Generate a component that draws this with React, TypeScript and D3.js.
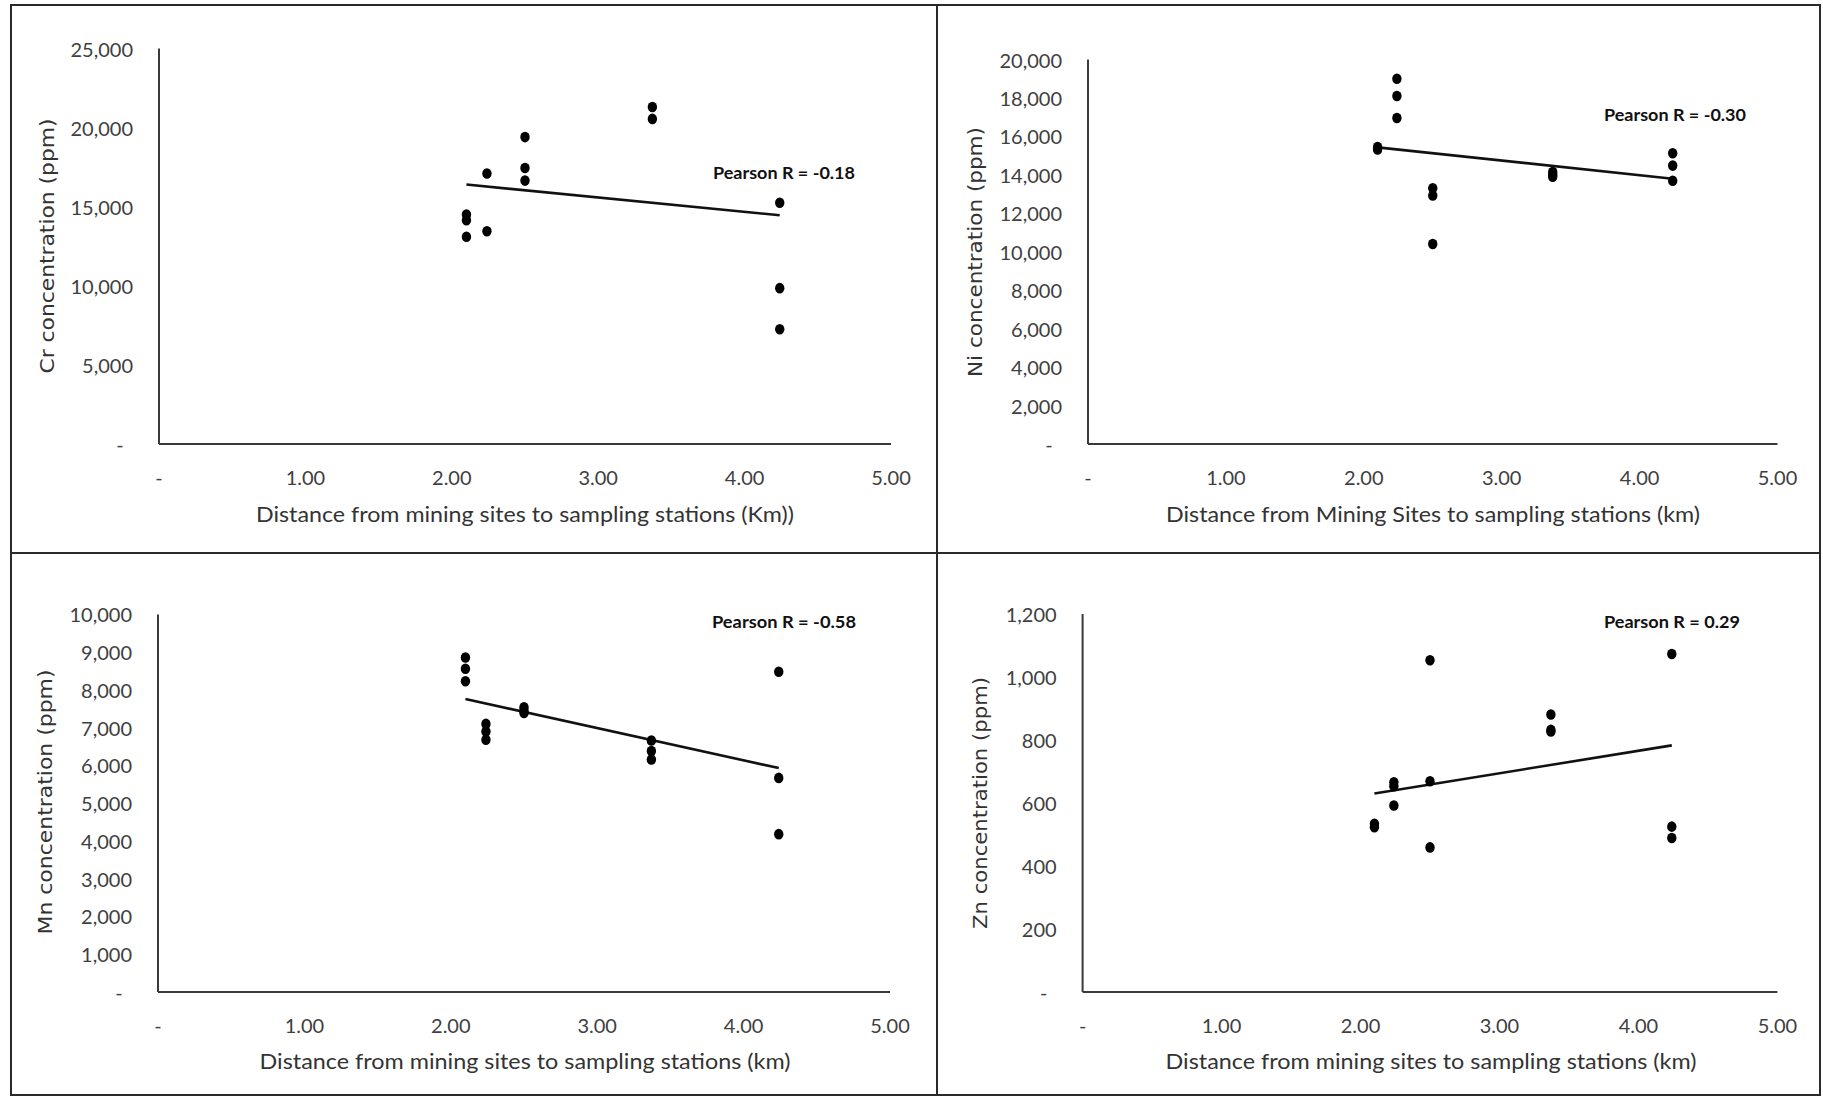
import React from 'react';
import { scaleLinear, range, format } from 'd3';

// distances of the sampling stations (km)
const stations = [2.1, 2.24, 2.5, 3.37, 4.24];

// concentrations read per station (ppm)
const crValues = [
  [14500, 14150, 13100],
  [17100, 13450],
  [19400, 17450, 16650],
  [21300, 20550],
  [15250, 9850, 7250],
];
const niValues = [
  [15450, 15320],
  [19000, 18100, 16960],
  [13300, 12930, 10400],
  [14150, 14000, 13900],
  [15120, 14480, 13690],
];
const mnValues = [
  [8860, 8560, 8230],
  [7100, 6900, 6680],
  [7540, 7450, 7390],
  [6660, 6380, 6160],
  [8480, 5670, 4180],
];
const znValues = [
  [534, 523],
  [666, 653, 592],
  [1053, 669, 459],
  [881, 832, 827],
  [1073, 525, 489],
];

// trend line values at first and last station
const crTrend = [16400, 14460];
const niTrend = [15430, 13800];
const mnTrend = [7760, 5930];
const znTrend = [630, 783];

const xTicks = [0, 1, 2, 3, 4, 5];
const crTicks = [0, 5000, 10000, 15000, 20000, 25000];
const niTicks = [0, 2000, 4000, 6000, 8000, 10000, 12000, 14000, 16000, 18000, 20000];
const mnTicks = [0, 1000, 2000, 3000, 4000, 5000, 6000, 7000, 8000, 9000, 10000];
const znTicks = [0, 200, 400, 600, 800, 1000, 1200];

const pearson = ['Pearson R = -0.18', 'Pearson R = -0.30', 'Pearson R = -0.58', 'Pearson R = 0.29'];
const yTitles = ['Cr concentration (ppm)', 'Ni concentration (ppm)', 'Mn concentration (ppm)', 'Zn concentration (ppm)'];
const xTitles = [
  'Distance from mining sites to sampling stations (Km))',
  'Distance from Mining Sites to sampling stations (km)',
  'Distance from mining sites to sampling stations (km)',
  'Distance from mining sites to sampling stations (km)',
];

const width = 1823;
const height = 1096;
const font = 'Lato, "Open Sans", sans-serif';

// where each panel sits on the page
const layout = [
  { left: 159, right: 891, top: 48.5, bottom: 444, yT: [46.5, 246, 255], xT: [525, 513, 538], pr: [784, 172, 142] },
  { left: 1088, right: 1777.5, top: 59.5, bottom: 444, yT: [975, 252, 250], xT: [1433, 513, 534], pr: [1675, 114, 142] },
  { left: 158, right: 890, top: 614.4, bottom: 992, yT: [45, 802, 265], xT: [525, 1060, 531], pr: [784, 621, 144] },
  { left: 1082.6, right: 1777.4, top: 614, bottom: 992, yT: [980, 803, 252], xT: [1431, 1060, 531], pr: [1672, 621, 136] },
];

const panels = [
  { values: crValues, trend: crTrend, ticks: crTicks },
  { values: niValues, trend: niTrend, ticks: niTicks },
  { values: mnValues, trend: mnTrend, ticks: mnTicks },
  { values: znValues, trend: znTrend, ticks: znTicks },
];

const fmtY = format(',');
const fmtX = format('.2f');

const Panel = ({ i }: { i: number }) => {
  const p = panels[i];
  const L = layout[i];
  const x = scaleLinear().domain([0, 5]).range([L.left, L.right]);
  const y = scaleLinear()
    .domain([0, p.ticks[p.ticks.length - 1]])
    .range([L.bottom, L.top]);
  const labelRight = L.left - 26;

  return (
    <g>
      {/* y tick labels */}
      {p.ticks.map((t) => (
        <text
          key={'y' + t}
          x={t === 0 ? labelRight - 13 : labelRight}
          y={y(t)}
          textAnchor={t === 0 ? 'middle' : 'end'}
          dominantBaseline="central"
          fontFamily={font}
          fontSize={20}
          fill="#404040"
        >
          {t === 0 ? '-' : fmtY(t)}
        </text>
      ))}
      {/* x tick labels */}
      {xTicks.map((t) => (
        <text
          key={'x' + t}
          x={x(t)}
          y={L.bottom + 33}
          textAnchor="middle"
          dominantBaseline="central"
          fontFamily={font}
          fontSize={20}
          fill="#404040"
        >
          {t === 0 ? '-' : fmtX(t)}
        </text>
      ))}
      {/* axes */}
      <line x1={L.left} x2={L.left} y1={L.top} y2={L.bottom} stroke="#3a3a3a" strokeWidth={2} />
      <line x1={L.left} x2={L.right} y1={L.bottom} y2={L.bottom} stroke="#3a3a3a" strokeWidth={2} />
      {/* trend line */}
      <line
        x1={x(stations[0])}
        x2={x(stations[stations.length - 1])}
        y1={y(p.trend[0])}
        y2={y(p.trend[1])}
        stroke="#111"
        strokeWidth={2.6}
      />
      {/* points */}
      {p.values.map((vals, si) =>
        vals.map((v, k) => (
          <ellipse key={si + '-' + k} cx={x(stations[si])} cy={y(v)} rx={4.7} ry={5.3} fill="#000" />
        ))
      )}
      {/* titles */}
      <text
        transform={`translate(${L.yT[0]},${L.yT[1]}) rotate(-90)`}
        textAnchor="middle"
        dominantBaseline="central"
        fontFamily='"DejaVu Sans", sans-serif'
        fontSize={19}
        textLength={L.yT[2]}
        lengthAdjust="spacingAndGlyphs"
        fill="#333"
      >
        {yTitles[i]}
      </text>
      <text
        x={L.xT[0]}
        y={L.xT[1]}
        textAnchor="middle"
        dominantBaseline="central"
        fontFamily={font}
        fontSize={21}
        textLength={L.xT[2]}
        lengthAdjust="spacingAndGlyphs"
        fill="#333"
      >
        {xTitles[i]}
      </text>
      <text
        x={L.pr[0]}
        y={L.pr[1]}
        textAnchor="middle"
        dominantBaseline="central"
        fontFamily={font}
        fontWeight="bold"
        fontSize={17}
        textLength={L.pr[2]}
        lengthAdjust="spacingAndGlyphs"
        fill="#111"
      >
        {pearson[i]}
      </text>
    </g>
  );
};

const App = () => (
  <svg
    width={width}
    height={height}
    style={{ position: 'absolute', left: 0, top: 0, background: '#fff' }}
  >
    <rect x={0} y={0} width={width} height={height} fill="#fff" />
    {/* frame and dividers */}
    <rect x={11} y={5} width={1809} height={1090} fill="none" stroke="#2a2a2a" strokeWidth={2} />
    <line x1={937} x2={937} y1={5} y2={1095} stroke="#2a2a2a" strokeWidth={2} />
    <line x1={11} x2={1820} y1={553} y2={553} stroke="#2a2a2a" strokeWidth={2} />
    {range(4).map((i) => (
      <Panel key={i} i={i} />
    ))}
  </svg>
);

export default App;
